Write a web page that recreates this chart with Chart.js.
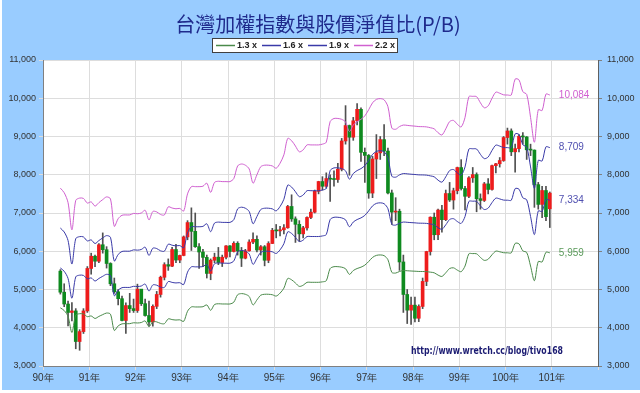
<!DOCTYPE html>
<html>
<head>
<meta charset="utf-8">
<script src="https://cdn.jsdelivr.net/npm/chart.js@4.4.1/dist/chart.umd.min.js"></script>
<style>
  html, body { margin: 0; padding: 0; background: #fff; }
  #wrap { width: 640px; height: 393px; }
</style>
</head>
<body>
<div id="wrap"><canvas id="pbChart" width="640" height="393"></canvas></div>
<script>
// 月K線: 第一根 = 90年5月 (月份索引 0 = 90年1月)
const firstMonth = 4;
const opens = [
  5480, 4930, 4620, 4400, 4440, 3640, 3900, 4440,
  5550, 5870, 5740, 6170, 6040, 5680, 5150, 4940, 4760, 4190, 4580, 4500,
  4450, 5010, 4630, 4320, 4150, 4560, 4870, 5320, 5650, 5610, 6045, 5770,
  5890, 6375, 6750, 6520, 6120, 5980, 5840, 5420, 5765, 5845, 5706, 5844,
  6140, 5994, 6208, 6006, 5819, 6011, 6241, 6312, 6033, 6118, 5764, 6203,
  6548, 6532, 6561, 6614, 7171, 6846, 6704, 6455, 6611, 6884, 7021, 7567,
  7823, 7699, 7901, 7884, 7875, 8145, 8883, 9287, 8982, 9411, 9711, 8586,
  8506, 7521, 8412, 8572, 8919, 8619, 7524, 7024, 7046, 5720, 4870, 4460,
  4591, 4248, 4557, 5211, 5993, 6890, 6432, 7077, 6826, 7509, 7340, 7582,
  8188, 7640, 7437, 7920, 8004, 7374, 7329, 7761, 7616, 8238, 8287, 8372,
  8973, 9145, 8600, 8683, 9007, 8988, 8652, 8644, 7741, 7225, 7588, 7110
];
const highs = [
  5520, 5150, 4700, 4660, 4500, 3950, 4500, 5600,
  5950, 5900, 6200, 6480, 6120, 5700, 5300, 5000, 4830, 4650, 4900, 4750,
  5140, 5000, 4750, 4700, 4600, 4950, 5350, 5700, 5800, 6100, 6180, 5900,
  6400, 6800, 7135, 7000, 6200, 6050, 5900, 5800, 5950, 6100, 5900, 6150,
  6150, 6250, 6250, 6100, 6050, 6300, 6480, 6400, 6150, 6150, 6250, 6600,
  6700, 6650, 6700, 7200, 7476, 6900, 6800, 6650, 6900, 7100, 7600, 7830,
  7950, 8050, 8000, 8100, 8300, 8950, 9807, 9300, 9500, 9859, 9750, 8700,
  8530, 8480, 9050, 9000, 9309, 8700, 7600, 7400, 7100, 5900, 5000, 4800,
  4800, 4600, 5300, 6000, 6900, 7000, 7100, 7200, 7600, 7800, 7650, 8200,
  8395, 7700, 7950, 8190, 8050, 7500, 7800, 7900, 8250, 8300, 8450, 9000,
  9220, 9200, 8800, 9050, 9100, 9000, 8800, 8650, 7800, 7700, 7700, 7550
];
const lows = [
  4880, 4550, 4050, 4180, 3450, 3411, 3850, 4400,
  5400, 5600, 5700, 5950, 5560, 5100, 4900, 4600, 4180, 3850, 4400, 4400,
  4400, 4580, 4300, 4044, 4040, 4500, 4800, 5250, 5500, 5600, 5700, 5700,
  5880, 6300, 6020, 6100, 5550, 5600, 5300, 5255, 5700, 5650, 5600, 5800,
  5850, 5980, 5900, 5600, 5800, 6000, 6200, 5980, 5900, 5618, 5700, 6200,
  6350, 6400, 6450, 6600, 6780, 6230, 6260, 6350, 6550, 6850, 7000, 7500,
  7600, 7650, 7300, 7700, 7800, 8100, 8800, 7987, 8900, 9300, 8350, 7800,
  7384, 7400, 7900, 8400, 8500, 7500, 6700, 6800, 5500, 4400, 4110, 4090,
  4150, 4160, 4500, 5100, 5900, 6300, 6300, 6500, 6800, 7300, 7100, 7500,
  7600, 7080, 7400, 7800, 7032, 7100, 7300, 7500, 7600, 8050, 8200, 8350,
  8800, 8500, 8070, 8600, 8800, 8400, 8500, 7148, 7100, 6880, 6800, 6620
];
const closes = [
  4930, 4620, 4400, 4440, 3640, 3900, 4440, 5550,
  5870, 5740, 6170, 6040, 5680, 5150, 4940, 4760, 4190, 4580, 4500, 4450,
  5010, 4630, 4320, 4150, 4560, 4870, 5320, 5650, 5610, 6045, 5770, 5890,
  6375, 6750, 6520, 6120, 5980, 5840, 5420, 5765, 5845, 5706, 5844, 6140,
  5994, 6208, 6006, 5819, 6011, 6241, 6312, 6033, 6118, 5764, 6203, 6548,
  6532, 6561, 6614, 7171, 6846, 6704, 6455, 6611, 6884, 7021, 7567, 7823,
  7699, 7901, 7884, 7875, 8145, 8883, 9287, 8982, 9411, 9711, 8586, 8506,
  7521, 8412, 8572, 8919, 8619, 7524, 7024, 7046, 5720, 4870, 4460, 4591,
  4248, 4557, 5211, 5993, 6890, 6432, 7077, 6826, 7509, 7340, 7582, 8188,
  7640, 7437, 7920, 8004, 7374, 7329, 7761, 7616, 8238, 8287, 8372, 8973,
  9145, 8600, 8683, 9007, 8988, 8652, 8644, 7741, 7225, 7588, 6904, 7520
];

// 每股淨值 (由 2.2x 線讀出)
const bookValue = [
  3477, 3423, 3305, 2982, 3332, 3359, 3355, 3300,
  3314, 3264, 3305, 3341, 3373, 3350, 3023, 3114, 3155, 3159, 3159, 3177,
  3173, 3182, 3214, 3100, 3200, 3195, 3164, 3159, 3255, 3241, 3232, 3236,
  3205, 3409, 3495, 3495, 3495, 3500, 3536, 3427, 3545, 3559, 3555, 3555,
  3555, 3591, 3741, 3764, 3750, 3705, 3536, 3636, 3732, 3750, 3750, 3741,
  3714, 3773, 3873, 4068, 4041, 3977, 3909, 3932, 3991, 3991, 3991, 3991,
  4000, 4023, 4268, 4305, 4305, 4295, 4264, 4150, 4227, 4268, 4295, 4336,
  4409, 4491, 4532, 4541, 4527, 4445, 4191, 4177, 4209, 4227, 4223, 4218,
  4214, 4209, 4208, 4205, 4195, 4182, 4136, 4109, 4182, 4268, 4282, 4236,
  4205, 4318, 4564, 4568, 4564, 4491, 4432, 4455, 4545, 4618, 4605, 4586,
  4584, 4584, 4773, 4764, 4623, 4591, 4318, 4023, 4409, 4400, 4595, 4583.6
];
const multiples = [1.3, 1.6, 1.9, 2.2];
const bandLabels = ['1.3 x', '1.6 x', '1.9 x', '2.2 x'];
const bandColors = ['#4a8a4a', '#3a3aa8', '#3a3aa8', '#d060d0'];
const labelColors = ['#5a9a5a', '#5050b0', '#5050b0', '#d060d0'];
const yearLabels = ['90年', '91年', '92年', '93年', '94年', '95年', '96年', '97年', '98年', '99年', '100年', '101年'];
const titleText = '台灣加權指數與股價淨值比(P/B)';
const urlText = 'http://www.wretch.cc/blog/tivo168';

const months = opens.map((_, i) => firstMonth + i + 0.5);
const upColor = '#ee1c1c';
const downColor = '#0f8a1f';

const datasets = [];
multiples.forEach((k, j) => {
  datasets.push({
    type: 'line',
    label: bandLabels[j],
    data: bookValue.map((b, i) => ({ x: months[i], y: b * k })),
    borderColor: bandColors[j],
    borderWidth: 1,
    pointRadius: 0,
    tension: 0.3,
    order: 1
  });
});
datasets.push({
  type: 'bar',
  label: 'body',
  data: opens.map((o, i) => ({ x: months[i], y: [o, closes[i]] })),
  backgroundColor: opens.map((o, i) => closes[i] >= o ? upColor : downColor),
  borderWidth: 0,
  grouped: false,
  categoryPercentage: 1,
  barPercentage: 1,
  maxBarThickness: 3,
  minBarLength: 1,
  order: 2
});
datasets.push({
  type: 'bar',
  label: 'wick',
  data: lows.map((l, i) => ({ x: months[i], y: [l, highs[i]] })),
  backgroundColor: '#505050',
  borderWidth: 0,
  grouped: false,
  categoryPercentage: 1,
  barPercentage: 1,
  maxBarThickness: 1,
  order: 3
});

const tickFont = { family: '"Liberation Sans", Arial, sans-serif', size: 9 };
const fmt = v => Math.round(v).toLocaleString('en-US');

const decor = {
  id: 'decor',
  beforeDraw(chart) {
    const { ctx, chartArea: a } = chart;
    ctx.save();
    ctx.fillStyle = '#ffffff';
    ctx.fillRect(0, 0, chart.width, chart.height);
    ctx.fillStyle = '#99ccff';
    ctx.fillRect(2, 0, chart.width - 2, chart.height - 3);
    ctx.fillStyle = '#ffffff';
    ctx.fillRect(a.left, a.top, a.right - a.left, a.bottom - a.top);
    ctx.restore();
  },
  afterDraw(chart) {
    const { ctx } = chart;
    ctx.save();
    // 標題
    ctx.font = '20px "Noto Sans CJK TC", sans-serif';
    ctx.fillStyle = '#1f2a8c';
    ctx.textAlign = 'center';
    ctx.textBaseline = 'middle';
    ctx.fillText(titleText, 318, 24);
    // 圖例
    ctx.fillStyle = '#ffffff';
    ctx.fillRect(212.5, 38.5, 185, 14);
    ctx.strokeStyle = '#404040';
    ctx.lineWidth = 1;
    ctx.strokeRect(212.5, 38.5, 185, 14);
    ctx.font = 'bold 9px "Liberation Sans", Arial, sans-serif';
    ctx.textAlign = 'left';
    bandLabels.forEach((lab, j) => {
      const x0 = 216 + j * 46;
      ctx.strokeStyle = bandColors[j];
      ctx.lineWidth = 1.5;
      ctx.beginPath();
      ctx.moveTo(x0, 45.5);
      ctx.lineTo(x0 + 19, 45.5);
      ctx.stroke();
      ctx.fillStyle = '#222222';
      ctx.fillText(lab, x0 + 21, 46);
    });
    // 線尾數值
    ctx.font = '10px "Liberation Sans", Arial, sans-serif';
    multiples.forEach((k, j) => {
      const meta = chart.getDatasetMeta(j);
      const pt = meta.data[meta.data.length - 1];
      ctx.fillStyle = labelColors[j];
      ctx.fillText(fmt(bookValue[bookValue.length - 1] * k), pt.x + 9, pt.y);
    });
    // 網址
    ctx.font = 'bold 10px "DejaVu Sans", sans-serif';
    ctx.fillStyle = '#1b1b72';
    ctx.fillText(urlText, 411, 351, 152);
    ctx.restore();
  }
};

new Chart(document.getElementById('pbChart'), {
  type: 'bar',
  data: { datasets },
  options: {
    responsive: false,
    animation: false,
    events: [],
    layout: { padding: { top: 60, left: 0, right: 0, bottom: 0 } },
    plugins: {
      legend: { display: false },
      title: { display: false },
      tooltip: { enabled: false }
    },
    scales: {
      x: {
        type: 'linear',
        min: 0,
        max: 144,
        offset: false,
        grid: { offset: false, color: '#dddddd', tickLength: 4 },
        border: { color: '#808080' },
        afterBuildTicks: s => { s.ticks = yearLabels.map((_, i) => ({ value: i * 12 })).concat([{ value: 144 }]); },
        afterFit: s => { s.height = 27; },
        ticks: {
          autoSkip: false,
          maxRotation: 0,
          padding: 2,
          font: { family: '"Liberation Sans", Arial, sans-serif', size: 10 },
          color: '#333333',
          callback: v => yearLabels[v / 12] || ''
        }
      },
      y: {
        position: 'left',
        min: 3000,
        max: 11000,
        grid: { color: '#dddddd', tickLength: 4 },
        border: { color: '#808080' },
        afterFit: s => { s.width = 43; },
        ticks: { stepSize: 1000, padding: 3, font: tickFont, color: '#333333', callback: v => fmt(v) }
      },
      y2: {
        position: 'right',
        min: 3000,
        max: 11000,
        grid: { drawOnChartArea: false, color: '#808080', tickLength: 4 },
        border: { color: '#606060' },
        afterFit: s => { s.width = 42; },
        ticks: { stepSize: 1000, padding: 5, font: tickFont, color: '#333333', callback: v => fmt(v) }
      }
    }
  },
  plugins: [decor]
});
</script>
</body>
</html>
